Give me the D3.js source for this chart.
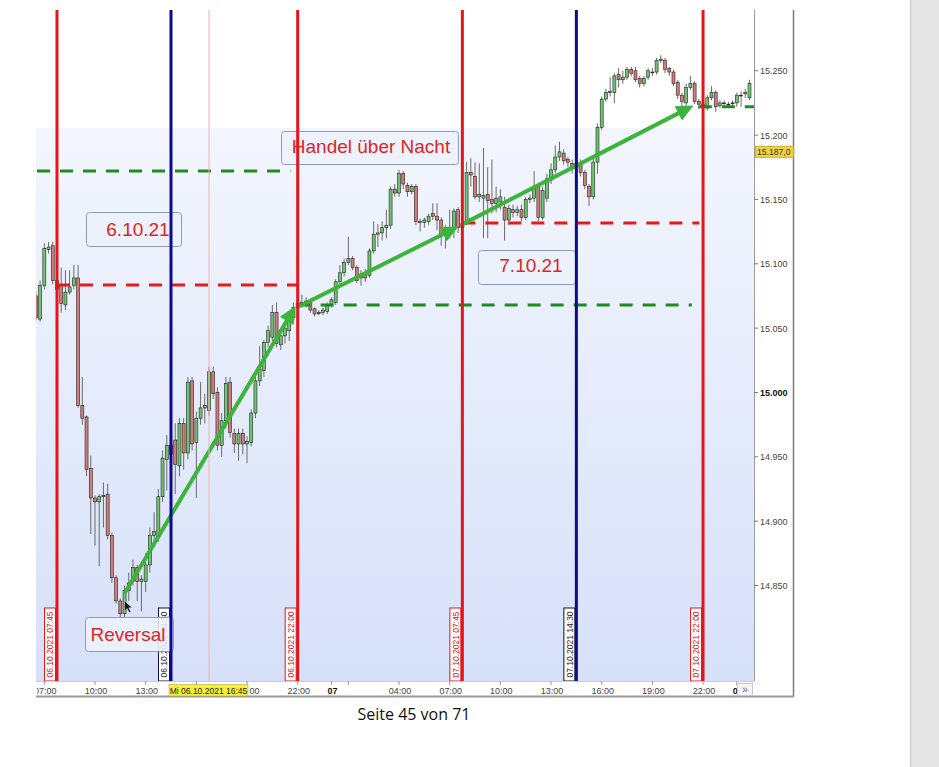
<!DOCTYPE html>
<html><head><meta charset="utf-8">
<script src="https://cdn.jsdelivr.net/npm/d3@7"></script>
<style>html,body{margin:0;padding:0;background:#fff;}svg{display:block;}</style>
</head><body>
<svg id="c" width="939" height="767"></svg>
<script>
// ---------- DATA ----------
const candleTimes = [
"06 06:30","06 06:45","06 07:00","06 07:15","06 07:30","06 07:45","06 08:00","06 08:15","06 08:30","06 08:45",
"06 09:00","06 09:15","06 09:30","06 09:45","06 10:00","06 10:15","06 10:30","06 10:45","06 11:00","06 11:15",
"06 11:30","06 11:45","06 12:00","06 12:15","06 12:30","06 12:45","06 13:00","06 13:15","06 13:30","06 13:45",
"06 14:00","06 14:15","06 14:30","06 14:45","06 15:00","06 15:15","06 15:30","06 15:45","06 16:00","06 16:15",
"06 16:30","06 16:45","06 17:00","06 17:15","06 17:30","06 17:45","06 18:00","06 18:15","06 18:30","06 18:45",
"06 19:00","06 19:15","06 19:30","06 19:45","06 20:00","06 20:15","06 20:30","06 20:45","06 21:00","06 21:15",
"06 21:30","06 21:45","06 22:00","06 22:15","06 22:30","06 22:45","06 23:00","06 23:15","06 23:30","06 23:45",
"07 00:00","07 00:15","07 00:30","07 00:45","07 01:00","07 01:15","07 01:30","07 01:45","07 02:00","07 02:15",
"07 02:30","07 02:45","07 03:00","07 03:15","07 03:30","07 03:45","07 04:00","07 04:15","07 04:30","07 04:45",
"07 05:00","07 05:15","07 05:30","07 05:45","07 06:00","07 06:15","07 06:30","07 06:45","07 07:00","07 07:15",
"07 07:30","07 07:45","07 08:00","07 08:15","07 08:30","07 08:45","07 09:00","07 09:15","07 09:30","07 09:45",
"07 10:00","07 10:15","07 10:30","07 10:45","07 11:00","07 11:15","07 11:30","07 11:45","07 12:00","07 12:15",
"07 12:30","07 12:45","07 13:00","07 13:15","07 13:30","07 13:45","07 14:00","07 14:15","07 14:30","07 14:45",
"07 15:00","07 15:15","07 15:30","07 15:45","07 16:00","07 16:15","07 16:30","07 16:45","07 17:00","07 17:15",
"07 17:30","07 17:45","07 18:00","07 18:15","07 18:30","07 18:45","07 19:00","07 19:15","07 19:30","07 19:45",
"07 20:00","07 20:15","07 20:30","07 20:45","07 21:00","07 21:15","07 21:30","07 21:45","07 22:00","07 22:15",
"07 22:30","07 22:45","07 23:00","07 23:15","07 23:30","07 23:45","08 00:00","08 00:15","08 00:30","08 00:45"];

const opens = [
15075,15057,15083,15111,15114,15087,15083,15068,15078,15083,
15089,14990,14981,14941,14918,14915,14919,14921,14889,14856,
14838,14828,14846,14853,14864,14853,14853,14866,14889,14887,
14919,14948,14959,14963,14943,14976,14953,15009,14961,14980,
14988,14986,15016,15000,14959,14978,15008,14968,14960,14968,
14960,14961,14984,15009,15017,15039,15043,15062,15037,15044,
15048,15058,15066,15069,15070,15071,15065,15062,15062,15063,
15068,15070,15086,15093,15101,15104,15097,15089,15093,15091,
15110,15123,15124,15128,15130,15158,15155,15170,15161,15156,
15160,15133,15132,15133,15139,15137,15134,15122,15126,15128,
15142,15128,15132,15171,15168,15152,15151,15154,15150,15147,
15148,15144,15134,15142,15140,15142,15136,15150,15151,15160,
15136,15151,15165,15173,15183,15186,15181,15178,15175,15178,
15171,15160,15152,15179,15206,15228,15234,15233,15247,15243,
15245,15251,15250,15244,15240,15245,15249,15249,15258,15258,
15252,15249,15241,15231,15225,15237,15240,15226,15224,15221,
15229,15233,15223,15225,15224,15225,15225,15231,15232,15229];

const highs = [
15079,15087,15116,15117,15117,15090,15097,15095,15095,15099,
15099,15012,14982,14951,14920,14921,14930,14929,14891,14858,
14840,14850,14860,14870,14866,14858,14875,14895,14907,14925,
14955,14967,14970,14976,14980,14980,15012,15012,14985,15008,
14999,15020,15020,15004,14984,15012,15012,14972,14972,14972,
14966,14987,15015,15036,15041,15052,15068,15070,15048,15053,
15062,15070,15072,15076,15074,15073,15066,15064,15066,15070,
15074,15088,15099,15104,15121,15106,15099,15095,15096,15112,
15133,15131,15133,15142,15160,15162,15173,15172,15163,15162,
15162,15135,15136,15139,15147,15147,15136,15130,15142,15143,
15144,15135,15179,15182,15179,15178,15190,15175,15181,15160,
15158,15152,15146,15146,15145,15146,15152,15154,15172,15163,
15160,15170,15178,15192,15195,15189,15183,15181,15183,15181,
15173,15162,15182,15209,15230,15236,15245,15248,15252,15250,
15253,15253,15253,15246,15246,15252,15252,15260,15262,15260,
15253,15251,15243,15233,15240,15246,15242,15228,15226,15231,
15238,15235,15227,15227,15226,15227,15233,15234,15236,15243];

const lows = [
15056,15055,15080,15108,15084,15070,15062,15064,15076,15080,
14988,14975,14935,14890,14881,14865,14895,14886,14852,14836,
14822,14825,14838,14850,14838,14830,14845,14860,14880,14884,
14915,14924,14940,14921,14935,14940,14948,14955,14918,14975,
14976,14982,14995,14955,14950,14972,14965,14953,14947,14952,
14945,14958,14980,15005,15012,15035,15040,15035,15033,15038,
15040,15055,15062,15067,15066,15062,15059,15060,15060,15061,
15066,15068,15084,15090,15099,15095,15085,15083,15086,15089,
15108,15113,15118,15120,15127,15152,15152,15158,15152,15154,
15130,15125,15128,15130,15134,15126,15114,15112,15120,15120,
15124,15125,15130,15160,15150,15148,15120,15120,15139,15140,
15142,15118,15130,15136,15137,15133,15134,15147,15148,15133,
15134,15148,15162,15170,15180,15177,15175,15170,15170,15168,
15158,15145,15150,15170,15204,15226,15230,15225,15237,15240,
15243,15246,15241,15237,15238,15243,15246,15247,15256,15248,
15246,15238,15228,15222,15222,15235,15224,15220,15219,15219,
15227,15218,15221,15223,15222,15223,15222,15222,15229,15227];

const closes = [
15058,15083,15112,15113,15087,15080,15069,15078,15082,15089,
14990,14980,14940,14918,14915,14919,14920,14889,14856,14838,
14828,14846,14852,14864,14853,14855,14866,14889,14892,14919,
14949,14959,14952,14944,14976,14953,15008,14960,14980,14988,
14990,15016,14999,14959,14978,15007,14969,14960,14968,14960,
14962,14984,15009,15018,15039,15048,15062,15038,15044,15050,
15058,15066,15069,15070,15071,15064,15061,15062,15064,15068,
15072,15086,15093,15101,15104,15097,15087,15092,15089,15110,
15123,15124,15128,15130,15158,15155,15170,15162,15156,15160,
15133,15132,15134,15137,15137,15134,15122,15126,15127,15141,
15128,15131,15171,15169,15152,15154,15153,15149,15147,15151,
15152,15134,15143,15140,15142,15136,15150,15151,15159,15136,
15157,15166,15173,15183,15187,15180,15179,15175,15178,15171,
15161,15152,15179,15206,15228,15233,15233,15246,15243,15245,
15251,15248,15243,15240,15244,15250,15249,15258,15259,15251,
15249,15240,15231,15226,15237,15240,15226,15224,15222,15229,
15233,15222,15225,15225,15224,15225,15231,15231,15233,15240];

const yTicks = [14850,14900,14950,15000,15050,15100,15150,15200,15250];
const yTickLabels = ["14.850","14.900","14.950","15.000","15.050","15.100","15.150","15.200","15.250"];
// tick marks every 3h; labels hidden behind the cursor tag are shown only where visible
const xTickTimes = ["06 07:00","06 10:00","06 13:00","06 16:00","06 19:00","06 22:00","07 00:00","07 01:00","07 04:00","07 07:00","07 10:00","07 13:00","07 16:00","07 19:00","07 22:00","08 00:00"];
const xTickLabels = ["07:00","10:00","13:00","","19:00","22:00","07","","04:00","07:00","10:00","13:00","16:00","19:00","22:00","08"];

const markerTimes = ["06 07:45","06 14:30","06 22:00","07 07:45","07 14:30","07 22:00"];
const markerKinds = ["session","midday","session","session","midday","session"];
const markerLabels = ["06.10.2021 07:45","06.10.2021 14:30","06.10.2021 22:00","07.10.2021 07:45","07.10.2021 14:30","07.10.2021 22:00"];
const cursorTime = "06 16:45";
const cursorLabel = "Mi 06.10.2021 16:45";
const lastPrice = 15187.0;
const lastPriceLabel = "15.187,0";

const levelValues = [15172, 15083.5, 15068, 15131.7, 15222];
const levelStarts = ["06 06:34","06 07:45","06 22:00","07 07:45","07 21:45"];
const levelEnds   = ["06 21:34","06 22:00","07 21:20","07 21:47","08 01:01"];
const levelKinds  = ["support","resistance","support","resistance","support"];

const arrowFromTimes = ["06 11:48","06 22:06","07 07:48"];
const arrowFromValues = [14845, 15067, 15131];
const arrowToTimes = ["06 21:52","07 07:31","07 21:26"];
const arrowToValues = [15067, 15129, 15223];

// ---------- CHART ----------
const svg = d3.select("#c");
const parseT = d3.timeParse("%Y-%m-%d %H:%M");
const T = s => parseT("2021-10-" + s);
const PL = 36, PR = 754, PT = 10, PB = 681;
const x = d3.scaleTime().domain([T("06 06:34"), T("08 01:01")]).range([37, 754]);
const y = d3.scaleLinear().domain([14775.8, 15297.2]).range([PB, PT]);

const defs = svg.append("defs");
const grad = defs.append("linearGradient").attr("id","bg").attr("x1",0).attr("y1",0).attr("x2",0).attr("y2",1);
grad.append("stop").attr("offset","0%").attr("stop-color","#f3f6fe");
grad.append("stop").attr("offset","100%").attr("stop-color","#d6e0f8");
defs.append("clipPath").attr("id","clip").append("rect")
  .attr("x",PL).attr("y",PT).attr("width",PR-PL).attr("height",PB-PT);
defs.append("clipPath").attr("id","clipx").append("rect")
  .attr("x",37).attr("y",PB).attr("width",700).attr("height",16);

// page decoration
svg.append("rect").attr("x",911).attr("y",0).attr("width",28).attr("height",767).attr("fill","#e6e6e6");
svg.append("line").attr("x1",910.5).attr("x2",910.5).attr("y1",0).attr("y2",767).attr("stroke","#d2d2d2").attr("stroke-width",1.5);

// plot background
svg.append("rect").attr("x",PL).attr("y",128).attr("width",PR-PL).attr("height",PB-128).attr("fill","url(#bg)");

const g = svg.append("g").attr("clip-path","url(#clip)");

// candles
const data = candleTimes.map((t,i)=>({t:T(t),o:opens[i],h:highs[i],l:lows[i],c:closes[i]}));
const bw = 3;
g.append("g").selectAll("line").data(data).join("line")
  .attr("x1",d=>x(d.t)).attr("x2",d=>x(d.t))
  .attr("y1",d=>y(d.h)).attr("y2",d=>y(d.l))
  .attr("stroke","#6a6a6a").attr("stroke-width",1);
g.append("g").selectAll("rect").data(data).join("rect")
  .attr("x",d=>x(d.t)-bw/2).attr("width",bw)
  .attr("y",d=>y(Math.max(d.o,d.c)))
  .attr("height",d=>Math.max(0.8,Math.abs(y(d.o)-y(d.c))))
  .attr("fill",d=>d.c>d.o?"#6fc46f":(d.c<d.o?"#d27c77":"#222"))
  .attr("stroke","#252525").attr("stroke-width",0.6);

// level lines
const levelColor = {support:"#1e8c1e", resistance:"#e31b1b"};
g.append("g").selectAll("line").data(levelValues).join("line")
  .attr("x1",(d,i)=>x(T(levelStarts[i]))).attr("x2",(d,i)=>x(T(levelEnds[i])))
  .attr("y1",d=>y(d)).attr("y2",d=>y(d))
  .attr("stroke",(d,i)=>levelColor[levelKinds[i]])
  .attr("stroke-width",3).attr("stroke-dasharray","13,10");

// arrows
const ag = g.append("g");
arrowFromTimes.forEach((ft,i)=>{
  const x0 = x(T(ft)), y0 = y(arrowFromValues[i]);
  const x1 = x(T(arrowToTimes[i])), y1 = y(arrowToValues[i]);
  const dx = x1-x0, dy = y1-y0, len = Math.hypot(dx,dy);
  const ux = dx/len, uy = dy/len, L = 17, Wd = 8;
  const bx = x1-ux*L, by = y1-uy*L;
  ag.append("line").attr("x1",x0).attr("y1",y0).attr("x2",bx+ux*2).attr("y2",by+uy*2)
    .attr("stroke","#3cb43c").attr("stroke-width",4).attr("stroke-linecap","round");
  ag.append("path").attr("d",`M${x1},${y1}L${bx-uy*Wd},${by+ux*Wd}L${bx+uy*Wd},${by-ux*Wd}Z`)
    .attr("fill","#3cb43c");
});

// mouse cursor near reversal point
const cx0 = x(T("06 11:45")), cy0 = y(14838);
svg.append("path")
  .attr("d",`M${cx0},${cy0}l0,10l2.5,-2.5l2.2,4.2l1.6,-0.8l-2.1,-4l3.4,-0.2z`)
  .attr("fill","#111").attr("stroke","#fff").attr("stroke-width",0.4);

const annFont = "'Liberation Sans', Arial, sans-serif";

// marker label boxes (below annotations)
const mg = svg.append("g");
markerTimes.forEach((m,i)=>{
  const lx = x(T(m));
  const col = markerKinds[i]==="session" ? "#e3161b" : "#101030";
  const tcol = markerKinds[i]==="session" ? "#d42020" : "#222";
  mg.append("rect").attr("x",lx-12.5).attr("y",608).attr("width",11).attr("height",73)
    .attr("fill","#fff").attr("stroke",col).attr("stroke-width",1);
  mg.append("text").attr("transform",`translate(${lx-6.6},644.5) rotate(-90)`)
    .attr("text-anchor","middle").attr("dominant-baseline","central")
    .attr("font-family",annFont).attr("font-size",8.5).attr("fill",tcol).text(markerLabels[i]);
});

// annotation boxes
const ann = [
  {t:"Handel über Nacht", bx:281, by:131, bwid:177, bh:33, tx:371, ty:152.7},
  {t:"6.10.21", bx:86, by:212, bwid:95, bh:34, tx:138, ty:236},
  {t:"7.10.21", bx:478, by:250, bwid:97, bh:34, tx:531, ty:271.5},
  {t:"Reversal", bx:85, by:617, bwid:88, bh:34, tx:128, ty:640.5}
];
const annG = svg.append("g");
ann.forEach(a=>{
  annG.append("rect").attr("x",a.bx+0.5).attr("y",a.by+0.5).attr("width",a.bwid).attr("height",a.bh)
    .attr("rx",3).attr("fill","rgba(236,241,252,0.88)").attr("stroke","#8c9cc0").attr("stroke-width",1);
  annG.append("text").attr("x",a.tx).attr("y",a.ty).attr("text-anchor","middle")
    .attr("font-family",annFont).attr("font-size",19).attr("fill","#e02424").text(a.t);
});

// cursor line
svg.append("line").attr("x1",x(T(cursorTime))).attr("x2",x(T(cursorTime)))
  .attr("y1",PT).attr("y2",PB).attr("stroke","#f3b0b0").attr("stroke-width",1);

// vertical marker lines
const markerColor = {session:"#e3161b", midday:"#0b0b8c"};
svg.append("g").selectAll("line").data(markerTimes).join("line")
  .attr("x1",d=>x(T(d))).attr("x2",d=>x(T(d))).attr("y1",PT).attr("y2",PB)
  .attr("stroke",(d,i)=>markerColor[markerKinds[i]]).attr("stroke-width",3);

// frame lines
svg.append("line").attr("x1",PL).attr("x2",PR).attr("y1",PB+0.5).attr("y2",PB+0.5).attr("stroke","#c5ccdc");
svg.append("line").attr("x1",PR+0.5).attr("x2",PR+0.5).attr("y1",PT).attr("y2",PB).attr("stroke","#9a9a9a");
svg.append("line").attr("x1",793.5).attr("x2",793.5).attr("y1",PT).attr("y2",697).attr("stroke","#7c7c7c").attr("stroke-width",1.5);
svg.append("line").attr("x1",PL).attr("x2",794).attr("y1",696.5).attr("y2",696.5).attr("stroke","#9a9a9a").attr("stroke-width",2);

// y axis
const axFont = "'Liberation Sans', Arial, sans-serif";
const yg = svg.append("g");
yg.selectAll("line").data(yTicks).join("line")
  .attr("x1",PR).attr("x2",PR+4).attr("y1",d=>y(d)).attr("y2",d=>y(d)).attr("stroke","#777");
yg.selectAll("text").data(yTicks).join("text")
  .attr("x",PR+6).attr("y",d=>y(d)+0.5).attr("dominant-baseline","central")
  .attr("font-family",axFont).attr("font-size",9)
  .attr("font-weight",d=>d===15000?"bold":"normal")
  .attr("fill",d=>d===15000?"#111":"#444")
  .text((d,i)=>yTickLabels[i]);

// last price tag
svg.append("rect").attr("x",PR+1.5).attr("y",y(lastPrice)-5.5).attr("width",38).attr("height",11)
  .attr("fill","#f2d33a").attr("stroke","#c4a42a").attr("stroke-width",0.8);
svg.append("text").attr("x",PR+3).attr("y",y(lastPrice)+0.5).attr("dominant-baseline","central")
  .attr("font-family",axFont).attr("font-size",8.6).attr("fill","#333").text(lastPriceLabel);

// x axis
const cxp = x(T(cursorTime));
const tagL = cxp-40, tagR = cxp+39;
const xg = svg.append("g").attr("clip-path","url(#clipx)");
xg.selectAll("line").data(xTickTimes).join("line")
  .attr("x1",d=>x(T(d))).attr("x2",d=>x(T(d))).attr("y1",PB).attr("y2",PB+4).attr("stroke","#999");
// label text: where the cursor tag covers the left part of a label, only the visible part is written
xg.selectAll("text").data(xTickTimes).join("text")
  .each(function(d,i){
    const lab = xTickLabels[i];
    const px = x(T(d))+1;
    const half = lab.length*2.5;
    const sel = d3.select(this)
      .attr("y",693.5)
      .attr("font-family",axFont).attr("font-size",9)
      .attr("font-weight",lab.length===2?"bold":"normal")
      .attr("fill",lab.length===2?"#111":"#444");
    if (lab && px-half < tagR && px+half > tagR) {
      sel.attr("x",tagR+1.5).attr("text-anchor","start").text(lab.slice(lab.indexOf(":")+1));
    } else {
      sel.attr("x",px).attr("text-anchor","middle").text(lab);
    }
  });

// cursor date tag
svg.append("rect").attr("x",tagL).attr("y",684.5).attr("width",tagR-tagL).attr("height",11.5)
  .attr("fill","#f6f03a").attr("stroke","#b8b040").attr("stroke-width",0.6);
svg.append("text").attr("x",cxp-0.5).attr("y",693.6).attr("text-anchor","middle")
  .attr("font-family",axFont).attr("font-size",8.5).attr("fill","#222").text(cursorLabel);

// scroll button
svg.append("rect").attr("x",737.5).attr("y",683.5).attr("width",15).attr("height",12)
  .attr("fill","#f5f5f5").attr("stroke","#c8c8c8");
svg.append("text").attr("x",745).attr("y",693).attr("text-anchor","middle")
  .attr("font-family",axFont).attr("font-size",10).attr("fill","#666").text("»");

// page footer
svg.append("text").attr("x",414).attr("y",720).attr("text-anchor","middle")
  .attr("font-family","'Open Sans','Liberation Sans',sans-serif").attr("font-size",16).attr("fill","#111")
  .text("Seite 45 von 71");
</script>
</body></html>
